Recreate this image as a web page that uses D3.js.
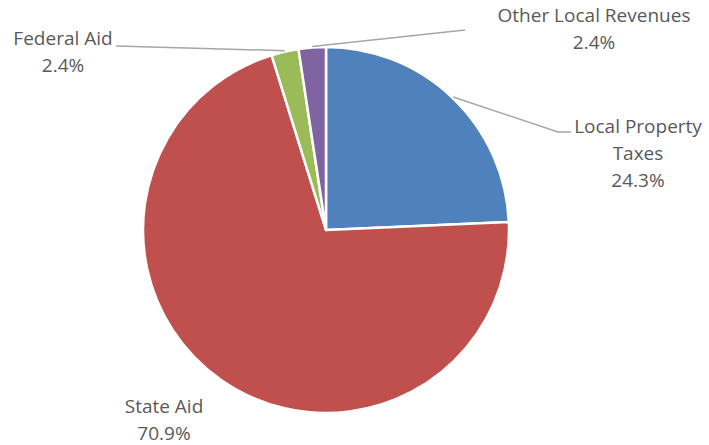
<!DOCTYPE html>
<html>
<head>
<meta charset="utf-8">
<script src="https://cdn.jsdelivr.net/npm/d3@7"></script>
<style>
body { margin: 0; background: #fff; }
text { font-family: "Open Sans", Lato, sans-serif; font-size: 19px; fill: #595959; }
</style>
</head>
<body>
<script>
const categories = ["Local Property Taxes", "State Aid", "Federal Aid", "Other Local Revenues"];
const values = [24.3, 70.9, 2.4, 2.4];
const colors = ["#4f81bd", "#c0504d", "#9bbb59", "#8064a2"];
// label lines and the leader line end point (x, y of the label anchor)
const labelLines = [["Local Property", "Taxes", "24.3%"], ["State Aid", "70.9%"], ["Federal Aid", "2.4%"], ["Other Local Revenues", "2.4%"]];
const labelPos = [[638, 133], [164, 413], [63, 45], [594, 22]];
const leaderEnds = [[[558, 132], [571, 132]], null, [[116, 46]], [[465, 30]]];

const W = 709, H = 445, cx = 326, cy = 230, r = 183;

const svg = d3.select("body").append("svg").attr("width", W).attr("height", H);

const pie = d3.pie().sort(null).value(d => d);
const arcs = pie(values);
const arc = d3.arc().innerRadius(0).outerRadius(r);

const g = svg.append("g").attr("transform", `translate(${cx},${cy})`);

g.selectAll("path").data(arcs).enter().append("path")
    .attr("d", arc)
    .attr("fill", (d, i) => colors[i])
    .attr("stroke", "#fff")
    .attr("stroke-width", 2.5)
    .attr("stroke-linejoin", "round");

// leader lines: start just outside the middle of the slice edge
arcs.forEach((a, i) => {
    if (!leaderEnds[i]) return;
    const ang = (a.startAngle + a.endAngle) / 2;
    const sx = cx + Math.sin(ang) * (r + 1), sy = cy - Math.cos(ang) * (r + 1);
    const pts = [[sx, sy]].concat(leaderEnds[i]);
    svg.append("path")
        .attr("d", d3.line()(pts))
        .attr("fill", "none")
        .attr("stroke", "#a6a6a6")
        .attr("stroke-width", 1.5);
});

labelLines.forEach((lines, i) => {
    const t = svg.append("text").attr("text-anchor", "middle");
    lines.forEach((s, j) => {
        t.append("tspan").attr("x", labelPos[i][0]).attr("y", labelPos[i][1] + j * 27).text(s);
    });
});
</script>
</body>
</html>
